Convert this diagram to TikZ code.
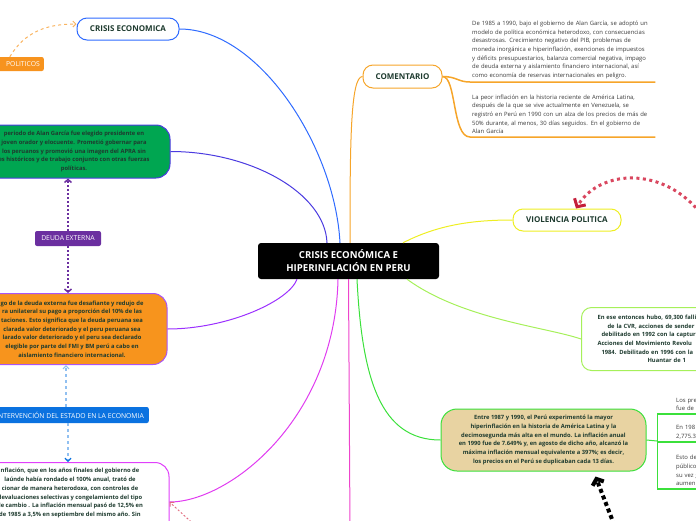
\documentclass[tikz,border=0pt]{standalone}
\usepackage{fontspec}
\setmainfont{Open Sans}
\usetikzlibrary{arrows.meta}
\definecolor{crisisblue}{HTML}{2F6BFF}
\definecolor{apraborder}{HTML}{4B3BE0}
\definecolor{apragreen}{HTML}{00A651}
\definecolor{deudaorange}{HTML}{F7941D}
\definecolor{deudaborder}{HTML}{A855F7}
\definecolor{deudapurple}{HTML}{6B2FA0}
\definecolor{intblue}{HTML}{0B72E0}
\definecolor{interpink}{HTML}{E040FB}
\definecolor{polorange}{HTML}{F7931E}
\definecolor{comorange}{HTML}{F6A52A}
\definecolor{violyellow}{HTML}{EEEE22}
\definecolor{hipergreen}{HTML}{3BE03B}
\definecolor{tanfill}{HTML}{E8D3A2}
\definecolor{cvrgreen}{HTML}{A6F05A}
\definecolor{inkgreen}{HTML}{1E3B2F}
\definecolor{notegray}{HTML}{3A3A3A}
\definecolor{violred}{HTML}{D9475F}
\definecolor{tipred}{HTML}{C41E3A}
\definecolor{linkpurple}{HTML}{9B30FF}
\definecolor{linkmagenta}{HTML}{E03CF0}
\definecolor{linkpink}{HTML}{EE44CC}
\begin{document}
\begin{tikzpicture}[x=1pt,y=-1pt,
  every node/.style={font=\fontsize{5.9}{8.6}\selectfont,inner sep=0pt},
  topic/.style={draw,line width=1pt,fill=white,rounded corners=10pt,text=inkgreen,font=\fontsize{8}{9}\selectfont\bfseries},
  card/.style={line width=1pt,rounded corners=14pt,align=center,inner xsep=8pt,inner ysep=5pt,text=inkgreen,font=\fontsize{5.8}{8.7}\selectfont\bfseries},
  tag/.style={rounded corners=2pt,text=white,font=\fontsize{6.8}{7.5}\selectfont},
  branch/.style={line width=1pt},
  note/.style={align=left,text=notegray,inner xsep=2pt,inner ysep=3pt}]
\useasboundingbox (0,0) rectangle (696,520);
\clip (0,0) rectangle (696,520);

% nodo central
\node[fill=black,rounded corners=3pt,minimum width=181pt,minimum height=36pt,align=center,text=white,font=\fontsize{9.6}{13}\selectfont\bfseries] (centro) at (348.5,261) {CRISIS ECONÓMICA E\\HIPERINFLACIÓN EN PERU};

% temas
\node[topic,draw=crisisblue,minimum width=102pt,minimum height=22pt] (crisis) at (128,29) {CRISIS ECONOMICA};
\node[topic,draw=comorange,minimum width=79pt,minimum height=23pt] (comentario) at (402.5,76.5) {COMENTARIO};
\node[topic,draw=violyellow,minimum width=108pt,minimum height=22pt] (violencia) at (567,220) {VIOLENCIA POLITICA};

% izquierda
\node[tag,fill=polorange,text width=70pt,align=right,inner xsep=4pt,minimum height=14pt,anchor=east] (politicos) at (44,64) {POLITICOS};
\node[card,draw=apraborder,fill=apragreen,minimum width=192pt,minimum height=53pt] (apra) at (74,151.5) {periodo de Alan García fue elegido presidente en\\joven orador y elocuente. Prometió gobernar para\\los peruanos y promovió una imagen del APRA sin\\es históricos y de trabajo conjunto con otras fuerzas\\políticas.};
\node[tag,fill=deudapurple,minimum width=66pt,minimum height=15pt] (deudaext) at (68,238.5) {DEUDA EXTERNA};
\node[card,draw=deudaborder,fill=deudaorange,minimum width=190pt,minimum height=71pt] (deuda) at (72,329) {go de la deuda externa fue desafiante y redujo de\\ra unilateral su pago a proporción del 10\% de las\\taciones. Esto significa que la deuda peruana sea\\clarada valor deteriorado y el peru peruana sea\\larado valor deteriorado y el peru sea declarado\\elegible por parte del FMI y BM perú a cabo en\\aislamiento financiero internacional.};
\node[tag,fill=intblue,minimum height=16pt,inner xsep=5pt,anchor=east] (intervencion) at (149,415) {INTERVENCIÓN DEL ESTADO EN LA ECONOMIA};
\node[card,draw=interpink,fill=white,minimum width=198pt,anchor=north,inner ysep=6pt,text depth=60pt] (inflacion) at (70,462) {nflación, que en los años finales del gobierno de\\laúnde había rondado el 100\% anual, trató de\\cionar de manera heterodoxa, con controles de\\devaluaciones selectivas y congelamiento del tipo\\de cambio . La inflación mensual pasó de 12,5\% en\\de 1985 a 3,5\% en septiembre del mismo año. Sin};

% derecha
\node[note,anchor=south west,text width=181pt] (nota1) at (470,82) {De 1985 a 1990, bajo el gobierno de Alan García, se adoptó un\\modelo de política económica heterodoxo, con consecuencias\\desastrosas. Crecimiento negativo del PIB, problemas de\\moneda inorgánica e hiperinflación, exenciones de impuestos\\y déficits presupuestarios, balanza comercial negativa, impago\\de deuda externa y aislamiento financiero internacional, así\\como economía de reservas internacionales en peligro.};
\node[note,anchor=south west,text width=181pt] (nota2) at (470,137) {La peor inflación en la historia reciente de América Latina,\\después de la que se vive actualmente en Venezuela, se\\registró en Perú en 1990 con un alza de los precios de más de\\50\% durante, al menos, 30 días seguidos. En el gobierno de\\Alan García};
\node[card,draw=cvrgreen,fill=white,rounded corners=10pt,text width=160pt,align=left,inner xsep=16pt,minimum height=63pt,anchor=west] (cvr) at (581,339) {En ese entonces hubo, 69,300 falli\\\hspace*{10pt}de la CVR, acciones de sender\\\hspace*{4pt}debilitado en 1992 con la captur\\Acciones del Movimiento Revolu\\\hspace*{4pt}1984. Debilitado en 1996 con la\\\hspace*{50pt}Huantar de 1};
\node[card,draw=hipergreen,fill=tanfill,minimum width=205pt,minimum height=62pt,rounded corners=16pt] (hiper) at (543.5,440) {Entre 1987 y 1990, el Perú experimentó la mayor\\hiperinflación en la historia de América Latina y la\\decimosegunda más alta en el mundo. La inflación anual\\en 1990 fue de 7.649\% y, en agosto de dicho año, alcanzó la\\máxima inflación mensual equivalente a 397\%; es decir,\\los precios en el Perú se duplicaban cada 13 días.};
\node[note,anchor=south west,inner xsep=19pt,text width=60pt] (r1) at (657,414) {Los pre\\fue de 1};
\node[note,anchor=south west,inner xsep=19pt,text width=60pt] (r2) at (657,442) {En 198\\2,775.3};
\node[note,anchor=south west,inner xsep=19pt,text width=60pt] (r3) at (657,489) {Esto del\\público\\su vez g\\aumen};

% ramas
\draw[branch,crisisblue] (crisis.east) .. controls +(80,0) and +(-5,-95) .. ([xshift=-8.5pt]centro.north);
\draw[branch,apraborder] (apra.east) .. controls +(80,0) and +(-2,-50) .. ([xshift=-21.5pt]centro.north);
\draw[branch,comorange] ([xshift=1.5pt]centro.north) .. controls +(0,-100) and +(-12,0) .. (comentario.west);
\draw[branch,violyellow] ([xshift=54.5pt]centro.north) .. controls +(35,-18) and +(-40,0) .. (violencia.west);
\draw[branch,linkpurple] ([xshift=-51.5pt]centro.south) .. controls +(-8,22) and +(60,0) .. (deuda.east);
\draw[branch,linkmagenta] ([xshift=-10.5pt]centro.south) .. controls +(-3,140) and +(60,0) .. ([yshift=-40pt]inflacion.north east);
\coordinate (abajo) at (350,530);
\draw[branch,linkpink] (centro.south) -- (abajo);
\draw[branch,hipergreen] ([xshift=8.5pt]centro.south) .. controls +(5,100) and +(-60,0) .. (hiper.west);
\draw[branch,cvrgreen] ([xshift=58.5pt]centro.south) .. controls +(55,40) and +(-35,-12) .. (cvr.west);

% comentario
\draw[comorange,line width=1.5pt] (comentario.east) .. controls +(14,0) and +(-12,0) .. (nota1.south west) -- (nota1.south east);
\draw[comorange,line width=1.5pt] (comentario.east) .. controls +(14,0) and +(-18,0) .. (nota2.south west) -- (nota2.south east);

% hiperinflacion
\coordinate (rama) at (657,441);
\draw[branch,hipergreen] (hiper.east) -- (rama);
\draw[branch,hipergreen,rounded corners=4pt] (r1.south west) -- (r3.south west);
\foreach \r in {r1,r2,r3} \draw[hipergreen,line width=2pt] (\r.south west) -- (\r.south east);

% relaciones
\draw[polorange!70,line width=1pt,dash pattern=on 3pt off 3pt,-{Straight Barb[length=3pt,width=6pt]}] ([xshift=5pt]politicos.north) .. controls +(15,-25) and +(-30,0) .. ([yshift=5pt]crisis.west);
\draw[deudapurple,line width=1.5pt,dash pattern=on 2pt off 2pt,-{Straight Barb[length=3pt,width=7pt]}] (deudaext.north) -- (deudaext.north |- apra.south);
\draw[deudapurple,line width=1.5pt,dash pattern=on 2pt off 2pt,-{Straight Barb[length=3pt,width=7pt]}] (deudaext.south) -- (deudaext.south |- deuda.north);
\draw[intblue!45,line width=1.2pt,dash pattern=on 3pt off 3pt,-{Straight Barb[length=3pt,width=6pt]}] ([xshift=-2pt]intervencion.north -| deudaext.south) -- ([xshift=-2pt]deudaext.south |- deuda.south);
\draw[intblue!45,line width=1.2pt,dash pattern=on 3pt off 3pt,-{Straight Barb[length=3pt,width=6pt,color=intblue]}] ([xshift=-2pt]intervencion.south -| inflacion.north) -- ([xshift=-2pt]inflacion.north);
\coordinate (rosa) at (200,530);
\draw[violred!80,line width=1pt,dash pattern=on 2pt off 2pt,-{Straight Barb[length=3pt,width=6pt]}] (rosa) -- ([yshift=-40pt]inflacion.north east);
\coordinate (rojo) at (725,265);
\draw[violred,line width=3pt,dash pattern=on 3pt off 3.5pt,-{Straight Barb[length=6pt,width=13pt,color=tipred]}] (rojo) .. controls (700,165) and (605,160) .. ([xshift=9pt]violencia.north);
\coordinate (negro) at (622,545);
\draw[black,line width=4pt,dash pattern=on 4pt off 3pt,-{Straight Barb[length=5pt,width=12pt]}] (negro) -- ([xshift=52pt,yshift=-5pt]hiper.south);
\end{tikzpicture}
\end{document}
